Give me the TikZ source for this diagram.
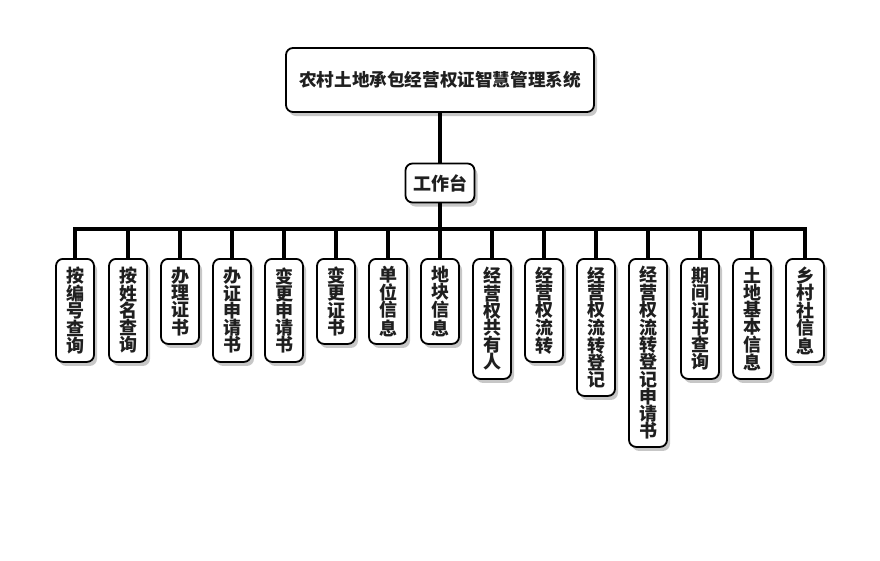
\documentclass[tikz,border=0pt]{standalone}
\usepackage{fontspec}
\setmainfont{Noto Sans CJK SC}
\usetikzlibrary{shadows}
\tikzset{
  box/.style={draw=black, line width=1.8pt, rounded corners=7pt, fill=white,
    drop shadow={shadow xshift=3pt, shadow yshift=-4pt, opacity=0.4, fill=black!55},
    font=\bfseries\fontsize{18}{17.2}\selectfont, text=black!88, align=center, inner sep=0pt},
  childbox/.style={box, anchor=north, minimum width=38pt},
  conn/.style={line width=3.8pt, draw=black}
}
\begin{document}
\begin{tikzpicture}[x=1pt,y=-1pt]
\useasboundingbox (0,0) rectangle (880,560);
\node[box, minimum width=308pt, minimum height=64pt, font=\bfseries\fontsize{17.6}{18}\selectfont] (top) at (440,80) {农村土地承包经营权证智慧管理系统};
\node[box, minimum width=69pt, minimum height=39pt] (wk) at (440,183) {工作台};
\coordinate (bar) at (440,229);
\draw[conn] (top.south) -- (wk.north);
\draw[conn] (wk.south) -- (bar);
\node[childbox, minimum height=103pt] (c1) at (75,258) {按\\编\\号\\查\\询};
\node[childbox, minimum height=103pt] (c2) at (128,258) {按\\姓\\名\\查\\询};
\node[childbox, minimum height=85pt] (c3) at (180,258) {办\\理\\证\\书};
\node[childbox, minimum height=103pt] (c4) at (232,258) {办\\证\\申\\请\\书};
\node[childbox, minimum height=103pt] (c5) at (284,258) {变\\更\\申\\请\\书};
\node[childbox, minimum height=85pt] (c6) at (336,258) {变\\更\\证\\书};
\node[childbox, minimum height=85pt] (c7) at (388,258) {单\\位\\信\\息};
\node[childbox, minimum height=85pt] (c8) at (440,258) {地\\块\\信\\息};
\node[childbox, minimum height=120pt] (c9) at (492,258) {经\\营\\权\\共\\有\\人};
\node[childbox, minimum height=103pt] (c10) at (544,258) {经\\营\\权\\流\\转};
\node[childbox, minimum height=137pt] (c11) at (596,258) {经\\营\\权\\流\\转\\登\\记};
\node[childbox, minimum height=188pt] (c12) at (648,258) {经\\营\\权\\流\\转\\登\\记\\申\\请\\书};
\node[childbox, minimum height=120pt] (c13) at (700,258) {期\\间\\证\\书\\查\\询};
\node[childbox, minimum height=120pt] (c14) at (752,258) {土\\地\\基\\本\\信\\息};
\node[childbox, minimum height=103pt] (c15) at (805,258) {乡\\村\\社\\信\\息};
\foreach \i in {1,...,15} {
  \draw[conn] (bar) -| (c\i.north);
}
\end{tikzpicture}
\end{document}
